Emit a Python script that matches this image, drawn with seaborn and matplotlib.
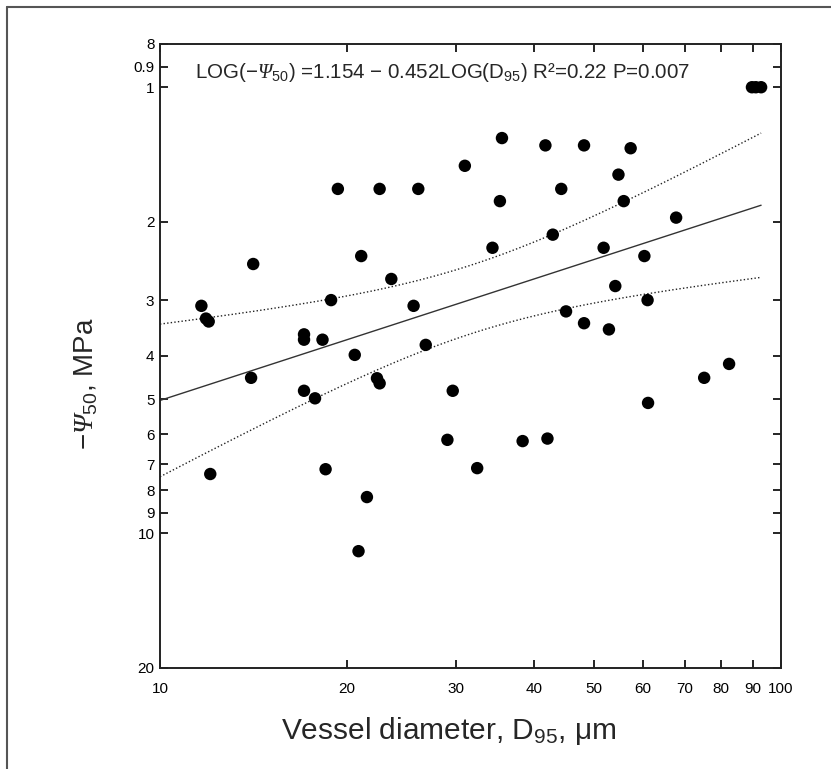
import numpy as np
import pandas as pd
import matplotlib
matplotlib.use("Agg")
import matplotlib.pyplot as plt
from matplotlib.lines import Line2D
import seaborn as sns

# -----------------------------
# data
# -----------------------------
d95 = [11.66, 11.86, 11.98, 12.05, 14.13, 14.02, 17.06, 17.06, 17.06, 17.77,
       18.27, 18.48, 18.86, 19.34, 20.59, 20.88, 21.09, 21.54, 22.36, 22.58,
       22.58, 23.58, 25.61, 26.06, 26.79, 29.03, 29.61, 30.97, 32.42, 34.31,
       35.27, 35.54, 38.37, 41.75, 42.07, 42.91, 44.28, 45.07, 48.18, 48.18,
       51.81, 52.84, 54.10, 54.74, 55.82, 57.27, 60.26, 60.98, 61.09, 67.79,
       75.22, 82.50, 89.8, 91.1, 92.9]
psi50 = [3.09, 3.30, 3.35, 7.36, 2.49, 4.48, 3.58, 3.68, 4.79, 4.98,
         3.68, 7.18, 3.00, 1.69, 3.98, 10.96, 2.39, 8.29, 4.49, 4.61,
         1.69, 2.69, 3.09, 1.69, 3.78, 6.17, 4.79, 1.50, 7.14, 2.29,
         1.80, 1.30, 6.21, 1.35, 6.13, 2.14, 1.69, 3.18, 1.35, 3.38,
         2.29, 3.49, 2.79, 1.57, 1.80, 1.37, 2.39, 3.00, 5.10, 1.96,
         4.48, 4.17, 1.00, 1.00, 1.00]

# equation printed on the chart
intercept = 1.154
slope = -0.452

yticks = [0.8, 0.9, 1, 2, 3, 4, 5, 6, 7, 8, 9, 10, 20]
ytick_labels = ["8", "0.9", "1", "2", "3", "4", "5", "6", "7", "8", "9", "10", "20"]
xticks = [10, 20, 30, 40, 50, 60, 70, 80, 90, 100]
xtick_labels = ["10", "20", "30", "40", "50", "60", "70", "80", "90", "100"]

eq_text = (r"LOG($-\mathsf{\Psi}_{50}$) =1.154 $-$ 0.452LOG(D$_{95}$) "
           r"R²=0.22 P=0.007")

df = pd.DataFrame({"d95": d95, "psi50": psi50})

# -----------------------------
# log-log line + confidence band
# -----------------------------
lx = np.log10(df["d95"].values)
ly = np.log10(df["psi50"].values)
n = len(lx)
resid = ly - (intercept + slope * lx)
s = np.sqrt(np.sum(resid ** 2) / (n - 2))
sxx = np.sum((lx - lx.mean()) ** 2)
band_mult = 2.5

gx = np.linspace(np.log10(10), lx.max(), 200)
gy = intercept + slope * gx
half = band_mult * s * np.sqrt(1 / n + (gx - lx.mean()) ** 2 / sxx)
fit = pd.DataFrame({"x": 10 ** gx, "fit": 10 ** gy,
                    "lo": 10 ** (gy - half), "hi": 10 ** (gy + half)})

# -----------------------------
# plot
# -----------------------------
sns.set_theme(style="ticks")
plt.rcParams["font.family"] = ["Liberation Sans", "DejaVu Sans"]
plt.rcParams["mathtext.fontset"] = "custom"
plt.rcParams["mathtext.rm"] = "Liberation Sans"
plt.rcParams["mathtext.it"] = "Liberation Sans:italic"
plt.rcParams["mathtext.sf"] = "Liberation Serif:italic"
plt.rcParams["mathtext.bf"] = "Liberation Sans:bold"

fig = plt.figure(figsize=(8.31, 7.69), dpi=100)
ax = fig.add_axes([0.1925, 0.1317, 0.7473, 0.8111])

sns.lineplot(data=fit, x="x", y="fit", ax=ax, color="#333333", lw=1.0)
sns.lineplot(data=fit, x="x", y="lo", ax=ax, color="#222222", lw=1.0, linestyle=(0, (1, 1.6)))
sns.lineplot(data=fit, x="x", y="hi", ax=ax, color="#222222", lw=1.0, linestyle=(0, (1, 1.6)))
sns.scatterplot(data=df, x="d95", y="psi50", ax=ax, color="black", s=80,
                edgecolor="none", zorder=5, clip_on=False)

ax.set_xscale("log")
ax.set_yscale("log")
ax.set_xlim(10, 100)
ax.set_ylim(20, 0.8)

ax.xaxis.set_minor_locator(matplotlib.ticker.NullLocator())
ax.yaxis.set_minor_locator(matplotlib.ticker.NullLocator())
ax.set_xticks(xticks)
ax.set_xticklabels(xtick_labels)
ax.set_yticks(yticks)
ax.set_yticklabels(ytick_labels)
ax.tick_params(direction="in", length=6, width=1.2, labelsize=11,
               top=True, right=True, pad=4, colors="black")
ax.tick_params(axis="x", pad=10)

for sp in ax.spines.values():
    sp.set_linewidth(1.4)
    sp.set_color("#222222")

ax.set_xlabel(r"Vessel diameter, D$_{95}$, μm", fontsize=21.5)
ax.set_ylabel(r"$-\mathsf{\Psi}_{50}$, MPa", fontsize=20)
ax.xaxis.set_label_coords(0.465, -0.076)
ax.yaxis.set_label_coords(-0.097, 0.455)

ax.text(0.056, 0.955, eq_text, transform=ax.transAxes, ha="left", va="center",
        fontsize=14.8)

# page frame (left and top edges)
fig.add_artist(Line2D([7 / 831, 7 / 831], [0, 1 - 7 / 769], color="#555555", lw=1.5))
fig.add_artist(Line2D([7 / 831, 1], [1 - 7 / 769, 1 - 7 / 769], color="#555555", lw=1.5))

fig.savefig("out.png", dpi=100)
